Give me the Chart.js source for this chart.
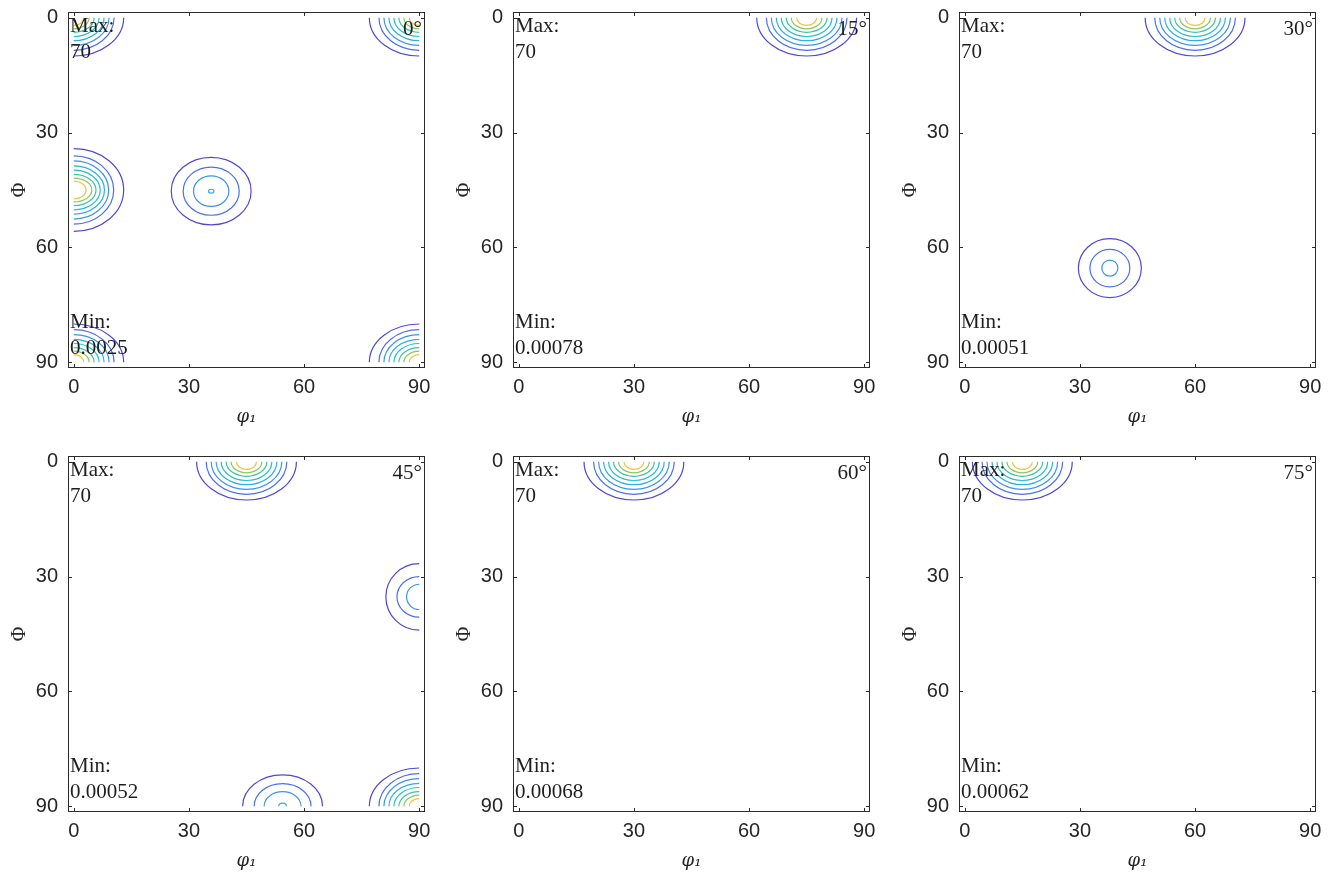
<!DOCTYPE html>
<html>
<head>
<meta charset="utf-8">
<script src="https://cdn.jsdelivr.net/npm/chart.js@4.4.1/dist/chart.umd.min.js"></script>
<style>
  html, body { margin: 0; padding: 0; background: #fff; overflow: hidden; }
  #wrap { position: relative; width: 1330px; height: 875px; }
  #wrap canvas { position: absolute; }
</style>
</head>
<body>
<div id="wrap"></div>
<script>
// ODF sections, phi2 = 0..75
const sectionAngles = [0, 15, 30, 45, 60, 75];
const maxLabels = ['70', '70', '70', '70', '70', '70'];
const minLabels = ['0.0025', '0.00078', '0.00051', '0.00052', '0.00068', '0.00062'];
const tickValues = [0, 30, 60, 90];

// contour level colours, outer (low) -> inner (high)
const levelColors = ['#5046d8', '#4a6ef0', '#3d92ee', '#2cb0e2', '#24c0cc', '#3cc4a0', '#86c85e', '#f2c23e'];

// contour half-widths (degrees)
const strongRx = [13.0, 10.5, 9.2, 7.9, 6.6, 5.3, 4.0, 2.6];
const strongRy = [10.0, 8.5, 7.2, 6.0, 4.9, 3.8, 2.9, 2.0];
const edgeRx = [13.0, 10.4, 9.1, 8.0, 6.9, 5.8, 4.7, 3.2];
const edgeRy = [10.8, 8.9, 7.6, 6.3, 5.2, 4.1, 3.1, 2.3];

const peaksSec0 = [
  { x: 0, y: 0, rx: strongRx, ry: strongRy },
  { x: 90, y: 0, rx: strongRx, ry: strongRy },
  { x: 0, y: 90, rx: strongRx, ry: strongRy },
  { x: 90, y: 90, rx: strongRx, ry: strongRy },
  { x: 0, y: 45, rx: edgeRx, ry: edgeRy },
  { x: 35.8, y: 45.3, rx: [10.4, 7.3, 4.6, 0.7], ry: [8.8, 6.3, 4.0, 0.5] }
];
const peaksSec15 = [
  { x: 75, y: 0, rx: strongRx, ry: strongRy }
];
const peaksSec30 = [
  { x: 60, y: 0, rx: strongRx, ry: strongRy },
  { x: 37.8, y: 65.4, rx: [8.2, 5.2, 2.1], ry: [7.7, 4.9, 2.1] }
];
const peaksSec45 = [
  { x: 45, y: 0, rx: strongRx, ry: strongRy },
  { x: 90, y: 35.3, rx: [8.7, 5.8, 3.3], ry: [8.7, 5.3, 3.3] },
  { x: 54.4, y: 90, rx: [10.4, 7.4, 4.8, 1.0], ry: [8.2, 5.9, 3.8, 0.8] },
  { x: 90, y: 90, rx: strongRx, ry: strongRy }
];
const peaksSec60 = [
  { x: 30, y: 0, rx: strongRx, ry: strongRy }
];
const peaksSec75 = [
  { x: 15, y: 0, rx: strongRx, ry: strongRy }
];
const sectionPeaks = [peaksSec0, peaksSec15, peaksSec30, peaksSec45, peaksSec60, peaksSec75];

Chart.defaults.font.family = '"Liberation Sans", Arial, sans-serif';
Chart.defaults.color = '#262626';

const plotLeft = [68, 513, 959];
const plotTop = [12, 456];
const plotW = 357, plotH = 356;
const axisW = 60, axisH = 60, padTop = 10, padRight = 13;

const odfPlugin = {
  id: 'odf',
  beforeDatasetsDraw(chart) {
    const { ctx } = chart;
    const x = chart.scales.x, y = chart.scales.y;
    const l = x.getPixelForValue(0), r = x.getPixelForValue(90);
    const t = y.getPixelForValue(0), b = y.getPixelForValue(90);
    ctx.save();
    ctx.beginPath();
    ctx.rect(l, t, r - l, b - t);
    ctx.clip();
    ctx.lineWidth = 1.2;
    chart.data.datasets[0].data.forEach(p => {
      const cx = x.getPixelForValue(p.x), cy = y.getPixelForValue(p.y);
      p.rx.forEach((rx, i) => {
        const w = Math.abs(x.getPixelForValue(p.x + rx) - cx);
        const h = Math.abs(y.getPixelForValue(p.y + p.ry[i]) - cy);
        ctx.strokeStyle = levelColors[i];
        ctx.beginPath();
        ctx.ellipse(cx, cy, w, h, 0, 0, Math.PI * 2);
        ctx.stroke();
      });
    });
    ctx.restore();
  },
  afterDraw(chart, args, opts) {
    const { ctx, chartArea: a } = chart;
    const x = chart.scales.x, y = chart.scales.y;
    ctx.save();
    // frame
    ctx.strokeStyle = '#2b2b2b';
    ctx.lineWidth = 1;
    ctx.strokeRect(a.left + 0.5, a.top + 0.5, a.right - a.left - 1, a.bottom - a.top - 1);
    // inward ticks on all four sides
    ctx.beginPath();
    tickValues.forEach(v => {
      const px = Math.round(x.getPixelForValue(v)) + 0.5;
      ctx.moveTo(px, a.bottom); ctx.lineTo(px, a.bottom - 4);
      ctx.moveTo(px, a.top); ctx.lineTo(px, a.top + 4);
      const py = Math.round(y.getPixelForValue(v)) + 0.5;
      ctx.moveTo(a.left, py); ctx.lineTo(a.left + 4, py);
      ctx.moveTo(a.right, py); ctx.lineTo(a.right - 4, py);
    });
    ctx.stroke();
    // annotations
    ctx.fillStyle = '#1e1e1e';
    ctx.font = '21px "Liberation Serif", "Times New Roman", serif';
    ctx.textBaseline = 'alphabetic';
    ctx.textAlign = 'left';
    ctx.fillText('Max:', a.left + 2, a.top + 20);
    ctx.fillText(opts.max, a.left + 2, a.top + 46);
    ctx.fillText('Min:', a.left + 2, a.bottom - 40);
    ctx.fillText(opts.min, a.left + 2, a.bottom - 14);
    ctx.textAlign = 'right';
    ctx.fillText(opts.angle + '°', a.right - 3, a.top + 23);
    ctx.restore();
  }
};

const wrap = document.getElementById('wrap');

sectionAngles.forEach((angle, i) => {
  const col = i % 3, row = Math.floor(i / 3);
  const cv = document.createElement('canvas');
  cv.width = axisW + plotW + padRight;
  cv.height = padTop + plotH + axisH;
  cv.style.left = (plotLeft[col] - axisW) + 'px';
  cv.style.top = (plotTop[row] - padTop) + 'px';
  wrap.appendChild(cv);

  new Chart(cv.getContext('2d'), {
    type: 'scatter',
    data: {
      datasets: [{ data: sectionPeaks[i], pointRadius: 0, showLine: false }]
    },
    options: {
      responsive: false,
      animation: false,
      events: [],
      layout: { padding: { top: padTop, right: padRight, left: 0, bottom: 0 } },
      plugins: {
        legend: { display: false },
        tooltip: { enabled: false },
        odf: { angle: angle, max: maxLabels[i], min: minLabels[i] }
      },
      scales: {
        x: {
          type: 'linear',
          min: -1.5,
          max: 91.5,
          grid: { display: false, drawTicks: false },
          border: { display: false },
          afterBuildTicks: s => { s.ticks = tickValues.map(v => ({ value: v })); },
          afterFit: s => { s.height = axisH; s.paddingLeft = 0; s.paddingRight = 0; },
          ticks: { padding: 7, maxRotation: 0, font: { size: 20 } },
          title: {
            display: true,
            text: 'φ₁',
            padding: { top: 0, bottom: 0 },
            font: { family: '"DejaVu Serif", "Liberation Serif", serif', style: 'italic', size: 18 }
          }
        },
        y: {
          type: 'linear',
          reverse: true,
          min: -1.5,
          max: 91.5,
          grid: { display: false, drawTicks: false },
          border: { display: false },
          afterBuildTicks: s => { s.ticks = tickValues.map(v => ({ value: v })); },
          afterFit: s => { s.width = axisW; s.paddingTop = 0; s.paddingBottom = 0; },
          ticks: { padding: 10, font: { size: 20 } },
          title: {
            display: true,
            text: 'Φ',
            padding: { top: 0, bottom: 0 },
            font: { family: '"Liberation Serif", serif', size: 20 }
          }
        }
      }
    },
    plugins: [odfPlugin]
  });
});
</script>
</body>
</html>
